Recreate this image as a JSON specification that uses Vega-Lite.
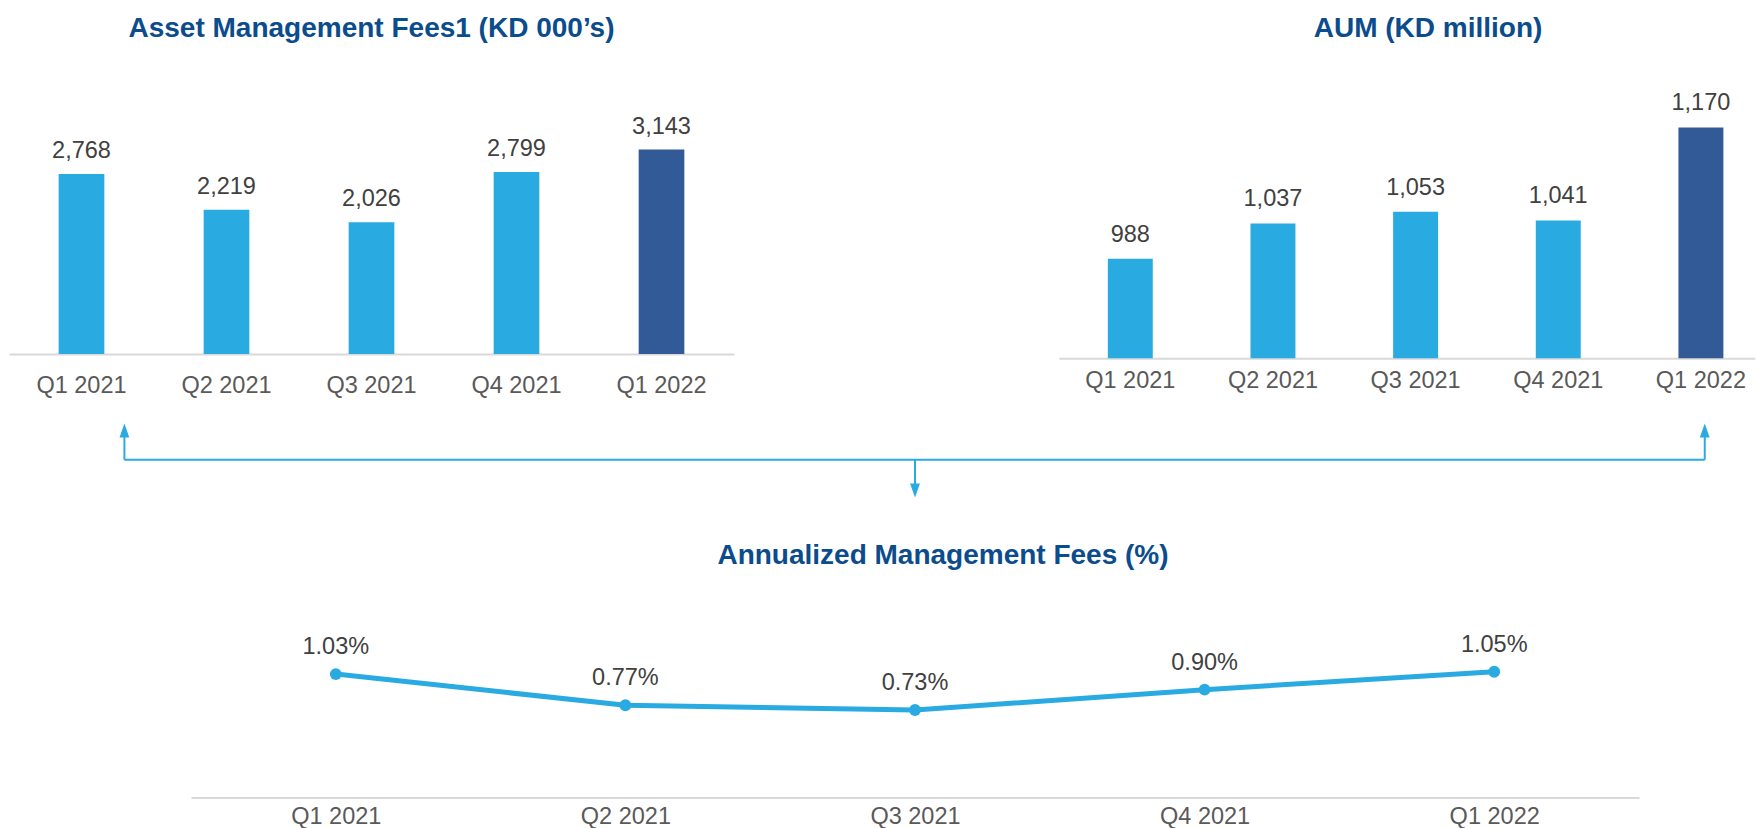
{
  "$schema": "https://vega.github.io/schema/vega-lite/v6.json",
  "background": "white",
  "padding": {"left": 9, "top": 15, "right": 0, "bottom": 0},
  "config": {
    "view": {"stroke": null},
    "font": "Liberation Sans",
    "title": {"font": "Liberation Sans", "fontSize": 28, "fontWeight": "bold", "color": "#0B4C8C", "anchor": "middle", "offset": 27},
    "axis": {"domainColor": "#D9D9D9", "domainWidth": 2, "ticks": false, "tickSize": 0, "grid": false, "labelFont": "Liberation Sans", "labelFontSize": 23.5, "labelColor": "#595959", "title": null, "labelAngle": 0}
  },
  "datasets": {
    "q": [
      {"quarter": "Q1 2021", "fees": 2768, "aum": 988, "rate": 0.0103},
      {"quarter": "Q2 2021", "fees": 2219, "aum": 1037, "rate": 0.0077},
      {"quarter": "Q3 2021", "fees": 2026, "aum": 1053, "rate": 0.0073},
      {"quarter": "Q4 2021", "fees": 2799, "aum": 1041, "rate": 0.0090},
      {"quarter": "Q1 2022", "fees": 3143, "aum": 1170, "rate": 0.0105}
    ],
    "conn": [
      {"x": -0.73, "x2": 4.727, "y": 0.6046, "y2": 0.6046},
      {"x": -0.73, "x2": -0.73, "y": 0.6046, "y2": 0.96},
      {"x": 4.727, "x2": 4.727, "y": 0.6046, "y2": 0.96},
      {"x": 2, "x2": 2, "y": 0.6046, "y2": 0.23}
    ],
    "heads": [
      {"x": -0.73, "y": 1, "dir": "up"},
      {"x": 4.727, "y": 1, "dir": "up"},
      {"x": 2, "y": 0.194, "dir": "down"}
    ]
  },
  "spacing": 26.5,
  "vconcat": [
    {
      "spacing": 325,
      "hconcat": [
        {
          "width": 725,
          "height": 284,
          "title": {"text": "Asset Management Fees1 (KD 000’s)"},
          "data": {"name": "q"},
          "encoding": {
            "x": {"field": "quarter", "type": "nominal", "sort": null, "scale": {"paddingInner": 0.685, "paddingOuter": 0.3425}, "axis": {"labelPadding": 19}},
            "y": {"field": "fees", "type": "quantitative", "scale": {"domain": [0, 4367], "nice": false}, "axis": null}
          },
          "layer": [
            {"mark": {"type": "bar"}, "encoding": {"color": {"condition": {"test": "datum.quarter === 'Q1 2022'", "value": "#325A96"}, "value": "#29AAE1"}}},
            {"mark": {"type": "text", "baseline": "alphabetic", "dy": -16, "fontSize": 23.5, "color": "#404040"}, "encoding": {"text": {"field": "fees", "type": "quantitative", "format": ","}}}
          ]
        },
        {
          "width": 696,
          "height": 288.3,
          "title": {"text": "AUM (KD million)", "dx": 21},
          "data": {"name": "q"},
          "encoding": {
            "x": {"field": "quarter", "type": "nominal", "sort": null, "scale": {"paddingInner": 0.685, "paddingOuter": 0.282, "align": 0.607}, "axis": {"labelPadding": 10.5}},
            "y": {"field": "aum", "type": "quantitative", "scale": {"domain": [850, 1249.6], "nice": false, "zero": false, "clamp": true}, "axis": null}
          },
          "layer": [
            {"mark": {"type": "bar"}, "encoding": {"color": {"condition": {"test": "datum.quarter === 'Q1 2022'", "value": "#325A96"}, "value": "#29AAE1"}}},
            {"mark": {"type": "text", "baseline": "alphabetic", "dy": -17, "fontSize": 23.5, "color": "#404040"}, "encoding": {"text": {"field": "aum", "type": "quantitative", "format": ","}}}
          ]
        }
      ]
    },
    {
      "width": 1747,
      "height": 91.8,
      "layer": [
        {
          "data": {"name": "conn"},
          "mark": {"type": "rule", "color": "#29ABE2", "strokeWidth": 2},
          "encoding": {
            "x": {"field": "x", "type": "quantitative", "scale": {"domain": [-1.1285, 4.904], "nice": false, "zero": false}, "axis": null},
            "x2": {"field": "x2"},
            "y": {"field": "y", "type": "quantitative", "scale": {"domain": [0, 1], "nice": false}, "axis": null},
            "y2": {"field": "y2"}
          }
        },
        {
          "data": {"name": "heads"},
          "mark": {"type": "point", "filled": true, "opacity": 1, "color": "#29ABE2", "size": 196},
          "encoding": {
            "x": {"field": "x", "type": "quantitative"},
            "y": {"field": "y", "type": "quantitative"},
            "shape": {"field": "dir", "type": "nominal", "scale": {"domain": ["up", "down"], "range": ["M-0.7,2L0,0L0.7,2Z", "M-0.7,-2L0,0L0.7,-2Z"]}, "legend": null}
          }
        }
      ]
    },
    {
      "width": 1747,
      "height": 200.4,
      "title": {"text": "Annualized Management Fees  (%)", "dx": 60.5},
      "data": {"name": "q"},
      "encoding": {
        "x": {"field": "quarter", "type": "nominal", "sort": null, "scale": {"type": "point", "padding": 0.5, "range": [182, 1630]}, "axis": {"labelPadding": 7}},
        "y": {"field": "rate", "type": "quantitative", "scale": {"domain": [0, 0.016742], "nice": false}, "axis": null}
      },
      "layer": [
        {"mark": {"type": "line", "color": "#29ABE2", "strokeWidth": 5}},
        {"mark": {"type": "point", "filled": true, "opacity": 1, "color": "#29ABE2", "size": 140}},
        {"mark": {"type": "text", "baseline": "alphabetic", "dy": -20, "fontSize": 23.5, "color": "#404040"}, "encoding": {"text": {"field": "rate", "type": "quantitative", "format": ".2%"}}}
      ]
    }
  ]
}
